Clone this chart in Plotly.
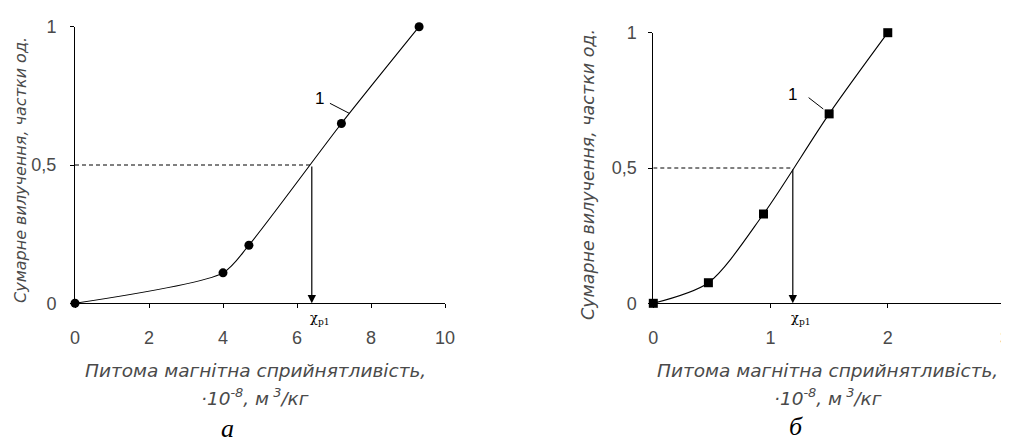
import plotly.graph_objects as go

# ---- data ----
x_a = [0, 4.0, 4.7, 7.2, 9.3]
y_a = [0, 0.11, 0.21, 0.65, 1.0]
x_b = [0, 0.47, 0.94, 1.5, 2.0]
y_b = [0, 0.076, 0.33, 0.70, 1.0]
xp1_a = 6.4
xp1_b = 1.19
level = 0.5
xticks_a = [0, 2, 4, 6, 8, 10]
xticks_b = [0, 1, 2, 3]
yticks = [0, 0.5, 1]
yticktext = ["0", "0,5", "1"]
curve_label = "1"
x_title = "<i>Питома магнітна сприйнятливість,</i>"
x_title2 = "<i>·10<sup>-8</sup>, м<sup> 3</sup>/кг</i>"
y_title = "<i>Сумарне вилучення, частки од.</i>"
panel_a = "<i>а</i>"
panel_b = "<i>б</i>"

OFF = 8  # page body margin
W, H = 1009 - OFF, 447 - OFF
FONT = "Liberation Sans, Arial, sans-serif"
TFONT = "DejaVu Sans, sans-serif"
GRAY = "#4a4a4a"

def px(xp):
    return (xp - OFF) / W

def py(yp):
    return 1 - (yp - OFF) / H

fig = go.Figure()

fig.add_trace(go.Scatter(x=x_a, y=y_a, mode="lines+markers", xaxis="x", yaxis="y",
                         line=dict(color="black", width=1.1, shape="spline", smoothing=0.7),
                         marker=dict(symbol="circle", size=9, color="black"),
                         cliponaxis=False, showlegend=False))
fig.add_trace(go.Scatter(x=x_b, y=y_b, mode="lines+markers", xaxis="x2", yaxis="y2",
                         line=dict(color="black", width=1.1, shape="spline", smoothing=0.8),
                         marker=dict(symbol="square", size=9, color="black"),
                         cliponaxis=False, showlegend=False))

# dashed level lines and arrows
for xr, yr, xp in [("x", "y", xp1_a), ("x2", "y2", xp1_b)]:
    fig.add_trace(go.Scatter(x=[0, xp], y=[level, level], mode="lines", xaxis=xr, yaxis=yr,
                             line=dict(color="black", width=1, dash="4px,3px"),
                             showlegend=False, hoverinfo="skip"))
    fig.add_annotation(x=xp, y=0, ax=xp, ay=level, xref=xr, yref=yr,
                       axref=xr, ayref=yr, showarrow=True, arrowhead=2,
                       arrowsize=1.4, arrowwidth=1.2, arrowcolor="black", text="",
                       standoff=0)
    fig.add_annotation(x=xp, y=0, xref=xr, yref=yr, text="χ<sub>p1</sub>",
                       showarrow=False, xshift=8, yshift=-15, xanchor="center", yanchor="middle",
                       font=dict(family="DejaVu Serif, serif", size=13, color="black"))

# curve labels + leader lines
fig.add_annotation(x=6.62, y=0.74, xref="x", yref="y", text=curve_label, showarrow=False,
                   xanchor="center", yanchor="middle",
                   font=dict(family=FONT, size=17, color="black"))
fig.add_shape(type="line", x0=6.89, y0=0.723, x1=7.41, y1=0.687, xref="x", yref="y",
              line=dict(color="black", width=1))
fig.add_annotation(x=1.19, y=0.77, xref="x2", yref="y2", text=curve_label, showarrow=False,
                   xanchor="center", yanchor="middle",
                   font=dict(family=FONT, size=17, color="black"))
fig.add_shape(type="line", x0=1.325, y0=0.76, x1=1.45, y1=0.718, xref="x2", yref="y2",
              line=dict(color="black", width=1))

axis_common = dict(showline=True, linecolor="black", linewidth=1, ticks="outside",
                   ticklen=4, tickcolor="black", showgrid=False, zeroline=False,
                   automargin=False, ticklabeloverflow="allow",
                   tickfont=dict(family=FONT, size=18, color=GRAY))

fig.update_layout(
    width=W, height=H, margin=dict(l=0, r=0, t=0, b=0, autoexpand=False),
    paper_bgcolor="white", plot_bgcolor="white",
    xaxis=dict(domain=[px(75), px(445)], range=[0, 10], tickvals=xticks_a,
               anchor="y", ticklabelstandoff=14, **axis_common),
    yaxis=dict(domain=[py(303.3), py(26.7)], range=[0, 1], tickvals=yticks,
               ticktext=yticktext, anchor="x", ticklabelstandoff=10, **axis_common),
    xaxis2=dict(domain=[px(653.3), min(px(1005), 1.0)], range=[0, 3], tickvals=xticks_b,
                anchor="y2", ticklabelstandoff=14, **axis_common),
    yaxis2=dict(domain=[py(303.3), py(32.7)], range=[0, 1], tickvals=yticks,
                ticktext=yticktext, anchor="x2", ticklabelstandoff=8, **axis_common),
)

def note(xp, yp, text, font, angle=0):
    fig.add_annotation(x=px(xp), y=py(yp), xref="paper", yref="paper", text=text,
                       showarrow=False, xanchor="center", yanchor="middle",
                       textangle=angle, font=font)

tfont = dict(family=TFONT, size=18.5, color=GRAY)
note(255, 370, x_title, tfont)
note(255, 397, x_title2, tfont)
note(827, 370, x_title, tfont)
note(828, 397, x_title2, tfont)
note(20, 170, y_title, dict(family=TFONT, size=16, color=GRAY), -90)
note(588, 175, y_title, dict(family=TFONT, size=17.5, color=GRAY), -90)
note(227, 428, panel_a, dict(family="Liberation Serif, serif", size=26, color="black"))
note(796, 426, panel_b, dict(family="Liberation Serif, serif", size=26, color="black"))

fig.write_html("out.html")
